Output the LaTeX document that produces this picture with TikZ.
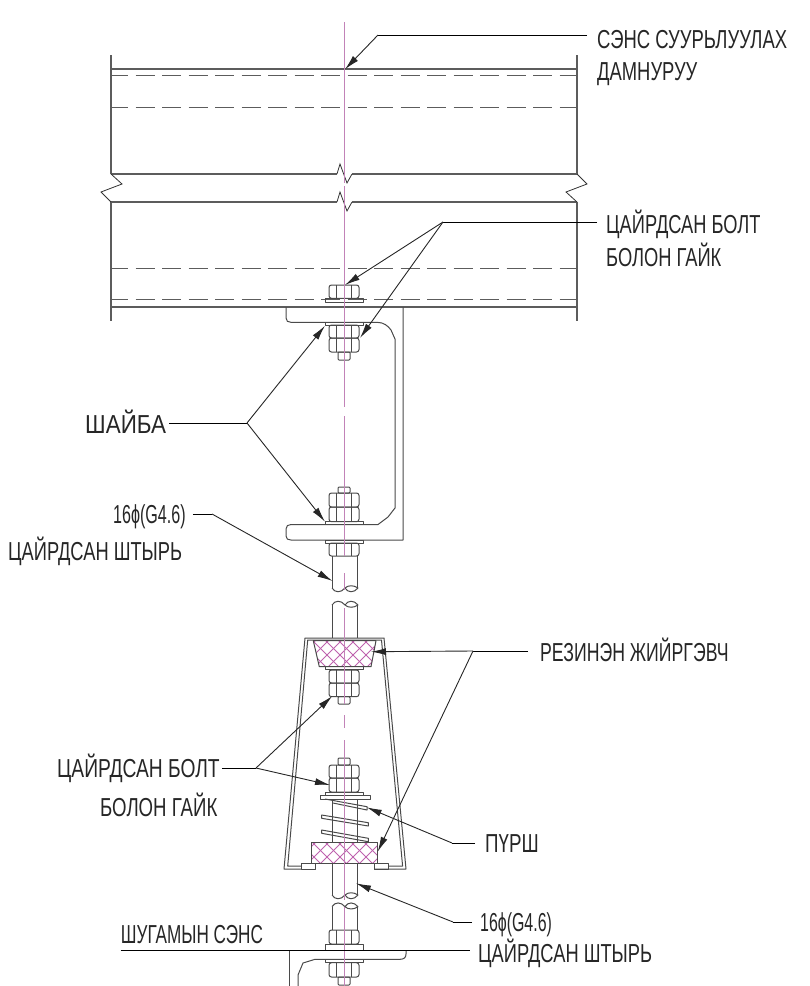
\documentclass[tikz,border=0pt]{standalone}
\usepackage{graphicx}
\usepackage{fontspec}
\setmainfont[FakeStretch=0.68]{Liberation Sans}
\usetikzlibrary{arrows.meta}
\definecolor{cl}{HTML}{C283B8}
\definecolor{hc}{HTML}{BE62AE}
\definecolor{ln}{HTML}{4A4A4A}
\tikzset{
  lbl/.style={anchor=base west,inner sep=0pt,text height=18pt,text depth=0pt,font=\fontsize{26}{26}\selectfont,text=black!85},
  part/.style={draw=ln,line width=1pt,line join=round},
  beam/.style={draw=ln!90,line width=1.5pt},
  beamdash/.style={draw=ln!90,line width=1.3pt,dash pattern=on 19pt off 7.5pt,dash phase=2pt},
  zig/.style={draw=black!80,line width=0.8pt},
  leader/.style={draw=black,line width=0.9pt},
  tipped/.style={draw=black!85,line width=0.9pt,-{Latex[length=15pt,width=7pt]}},
  hatch/.style={draw=hc,line width=0.8pt},
  axis/.style={draw=cl,line width=1pt}
}
\newcommand{\Sx}[2]{\scalebox{#1}[1]{#2}}
\newcommand{\Nut}[2]{% top y, bottom y
  \draw[part,rounded corners=2.5pt] (329,#1) rectangle (359,#2);
  \draw[part] (336.7,#1) -- (336.7,#2) (351.7,#1) -- (351.7,#2);
}
\newcommand{\Wash}[2]{\draw[part] (325,#1) rectangle (363,#2);}
\newcommand{\BoltEnd}[2]{\draw[part,rounded corners=1pt] (338,#1) rectangle (350,#2);}
\newcommand{\BreakLow}[1]{% rod end, #1 = y of shoulder
  \draw[part] (332,#1) .. controls (335,#1+5) and (341,#1+5) .. (345,#1)
    .. controls (348,#1-3) and (354,#1-3) .. (358,#1)
    .. controls (354,#1+5) and (348,#1+5) .. (345,#1);
}
\newcommand{\BreakHigh}[1]{%
  \draw[part] (332,#1) .. controls (335,#1-5) and (341,#1-5) .. (345,#1)
    .. controls (348,#1+3) and (354,#1+3) .. (358,#1)
    .. controls (354,#1-5) and (348,#1-5) .. (345,#1);
}
\begin{document}
\begin{tikzpicture}[x=1pt,y=-1pt]
\useasboundingbox (0,0) rectangle (810,986);
% hatching
\begin{scope}
  \clip (313.3,640.7) -- (376,640.7) -- (371,666.7) -- (319.3,666.7) -- cycle;
  \foreach \k in {250,263,...,420} {
    \draw[hatch] (\k,630) -- (\k+50,680);
    \draw[hatch] (\k+50,630) -- (\k,680);
  }
\end{scope}
\begin{scope}
  \clip (311.7,842.3) rectangle (377.3,863.3);
  \foreach \k in {250,263,...,420} {
    \draw[hatch] (\k,832) -- (\k+50,882);
    \draw[hatch] (\k+50,832) -- (\k,882);
  }
\end{scope}
% beam
\draw[beam] (111,55) -- (111,174) (111,202) -- (111,321);
\draw[beam] (577,55) -- (577,174) (577,202) -- (577,321);
\draw[beam] (111,69) -- (577,69);
\draw[beamdash] (111,75.7) -- (577,75.7);
\draw[beamdash,line width=1pt] (111,107.5) -- (577,107.5);
\draw[beam] (111,174) -- (337,174) (352,174) -- (577,174);
\draw[beam] (111,202) -- (337,202) (352,202) -- (577,202);
\draw[beamdash,line width=1pt] (111,268.3) -- (577,268.3);
\draw[beamdash] (111,299.7) -- (577,299.7);
\draw[beam] (111,307) -- (577,307);
\draw[zig] (111,174) -- (122,184) -- (101,192) -- (111,202);
\draw[zig] (577,174) -- (587,184) -- (566,192) -- (577,202);
\draw[zig] (337,174) -- (340,164) -- (347,183) -- (352,174);
\draw[zig] (337,202) -- (340,192) -- (347,211) -- (352,202);
% upper bracket
\draw[part] (286,307) -- (286,318)
  .. controls (286,321) and (288,322.3) .. (291,322.3) -- (377,322.3)
  .. controls (384,322.3) and (388,326) .. (391,330) -- (395,339) -- (395,508)
  -- (388,517) -- (378,524.5) -- (291,524.5)
  .. controls (288,524.5) and (286,526) .. (286,529) -- (286,536)
  .. controls (286,539) and (288,540) .. (291,540) -- (403,540) -- (403,307);
% top bolts
\Nut{285}{298.3}
\Wash{298.3}{302}
\Wash{322.3}{325}
\Nut{325}{338}
\Nut{338}{352}
\BoltEnd{352}{360}
\BoltEnd{487}{493}
\Nut{493}{507}
\Nut{507}{521.7}
\Wash{521.7}{524.5}
\Wash{540}{543}
\Nut{543}{556}
% threaded rod, upper
\draw[part] (332.5,556) -- (332.5,588) (357.5,556) -- (357.5,588);
\BreakLow{588}
\BreakHigh{605}
\draw[part] (332.5,605) -- (332.5,638) (357.5,605) -- (357.5,638);
% housing
\draw[part] (301.7,869) -- (284,869) -- (305,638) -- (384,638) -- (406,869) -- (374,869);
\draw[part] (301.7,866) -- (287.7,866) -- (307.7,640) -- (381.5,640) -- (402.6,866) -- (388,866);
\draw[part] (301.7,863) rectangle (315.7,869);
\draw[part] (374,863) rectangle (388,869);
\draw[part] (313.3,640.7) -- (376,640.7) -- (371,666.7) -- (319.3,666.7) -- cycle;
\Wash{666.7}{669.5}
\Nut{670}{683}
\Nut{683}{696.7}
\BoltEnd{696.7}{704}
% spring seat
\BoltEnd{758}{765}
\Nut{765}{778}
\Nut{778}{792}
\Wash{792}{795}
\draw[part] (320,795) rectangle (370,799);
\draw[part] (332.5,799) -- (332.5,842) (357.5,799) -- (357.5,842);
\draw[part] (325,799) -- (367,806.7) -- (367,810) -- (333,803);
\draw[part] (321.7,815) -- (368.3,822.7) -- (368.3,826) -- (321.7,818.3) -- cycle;
\draw[part] (321.7,830) -- (368.3,838.3) -- (368.3,841.7) -- (321.7,833.3) -- cycle;
\draw[part] (311.7,842.3) rectangle (377.3,863.3);
% lower rod
\draw[part] (332.5,863.3) -- (332.5,895) (357.5,863.3) -- (357.5,895);
\BreakLow{895}
\BreakHigh{906.7}
\draw[part] (332.5,906.7) -- (332.5,930) (357.5,906.7) -- (357.5,930);
\Nut{930}{944}
\draw[part] (325,944) rectangle (363,950);
% bottom bracket
\draw[part] (289,950.3) -- (289,986);
\draw[part] (406,950.3) -- (406,954) .. controls (406,957.5) and (404,959.3) .. (400,959.3)
  -- (315,959.3) -- (303,963) -- (298,975) -- (298,986);
\Wash{959.3}{962.7}
\Nut{962.7}{977}
\BoltEnd{977}{985}
% centre line
\foreach \a/\b in {22/183,186/407,416/556,573/590,608/704,715/728,740/900,907/986}
  \draw[axis] (344,\a) -- (344,\b);
% line of the base
\draw[leader,line width=1.1pt] (120.7,950.3) -- (470,950.3);
% labels
\node[lbl] (a1) at (597,48) {\Sx{1.045}{СЭНС СУУРЬЛУУЛАХ}};
\node[lbl] (a2) at (597,80) {\Sx{1.04}{ДАМНУРУУ}};
\node[lbl] (b1) at (606,233) {\Sx{1.033}{ЦАЙРДСАН БОЛТ}};
\node[lbl] (b2) at (606,266) {\Sx{1.036}{БОЛОН ГАЙК}};
\node[lbl] (c1) at (85,433) {\Sx{1.27}{ШАЙБА}};
\node[lbl] (d1) at (113,523) {\Sx{0.91}{16ϕ(G4.6)}};
\node[lbl] (d2) at (8,560) {\Sx{1.035}{ЦАЙРДСАН ШТЫРЬ}};
\node[lbl] (e1) at (540,661) {РЕЗИНЭН ЖИЙРГЭВЧ};
\node[lbl] (f1) at (57,777) {\Sx{1.088}{ЦАЙРДСАН БОЛТ}};
\node[lbl] (f2) at (100,816) {\Sx{1.054}{БОЛОН ГАЙК}};
\node[lbl] (g1) at (485,852) {\Sx{1.06}{ПҮРШ}};
\node[lbl] (h1) at (480,931) {\Sx{0.9}{16ϕ(G4.6)}};
\node[lbl] (h2) at (478,962) {\Sx{1.035}{ЦАЙРДСАН ШТЫРЬ}};
\node[lbl] (i1) at (120.7,943) {\Sx{0.97}{ШУГАМЫН СЭНС}};
% leader geometry
\coordinate (ja) at (378,35);
\coordinate (ta) at (345,69.3);
\coordinate (jb) at (443,222);
\coordinate (tb1) at (345,285);
\coordinate (tb2) at (360,338);
\coordinate (jc) at (247,423);
\coordinate (tc1) at (325,325.7);
\coordinate (tc2) at (325,521.7);
\coordinate (jd) at (212,514);
\coordinate (td) at (332.5,581);
\coordinate (je) at (473,651);
\coordinate (te1) at (371,651.7);
\coordinate (te2) at (377.7,851.7);
\coordinate (jf) at (256,768);
\coordinate (tf1) at (332.3,696);
\coordinate (tf2) at (330,785);
\coordinate (jg) at (452,843);
\coordinate (tg) at (366.7,807.3);
\coordinate (jh) at (453,922);
\coordinate (th) at (356,883.3);
\draw[leader,shorten <=10pt] (a1.west |- ja) -- (ja);
\draw[tipped] (ja) -- (ta);
\draw[leader,shorten <=9pt] (b1.west |- jb) -- (jb);
\draw[tipped] (jb) -- (tb1);
\draw[tipped] (jb) -- (tb2);
\draw[leader,shorten <=3pt] (c1.east |- jc) -- (jc);
\draw[tipped] (jc) -- (tc1);
\draw[tipped] (jc) -- (tc2);
\draw[leader,shorten <=7pt] (d1.east |- jd) -- (jd);
\draw[tipped] (jd) -- (td);
\draw[leader,shorten <=12pt] (e1.west |- je) -- (je);
\draw[tipped] (je) -- (te1);
\draw[tipped] (je) -- (te2);
\draw[leader,shorten <=2pt] (f1.east |- jf) -- (jf);
\draw[tipped] (jf) -- (tf1);
\draw[tipped] (jf) -- (tf2);
\draw[leader,shorten <=10pt] (g1.west |- jg) -- (jg);
\draw[tipped] (jg) -- (tg);
\draw[leader,shorten <=8pt] (h1.west |- jh) -- (jh);
\draw[tipped] (jh) -- (th);
\end{tikzpicture}
\end{document}
